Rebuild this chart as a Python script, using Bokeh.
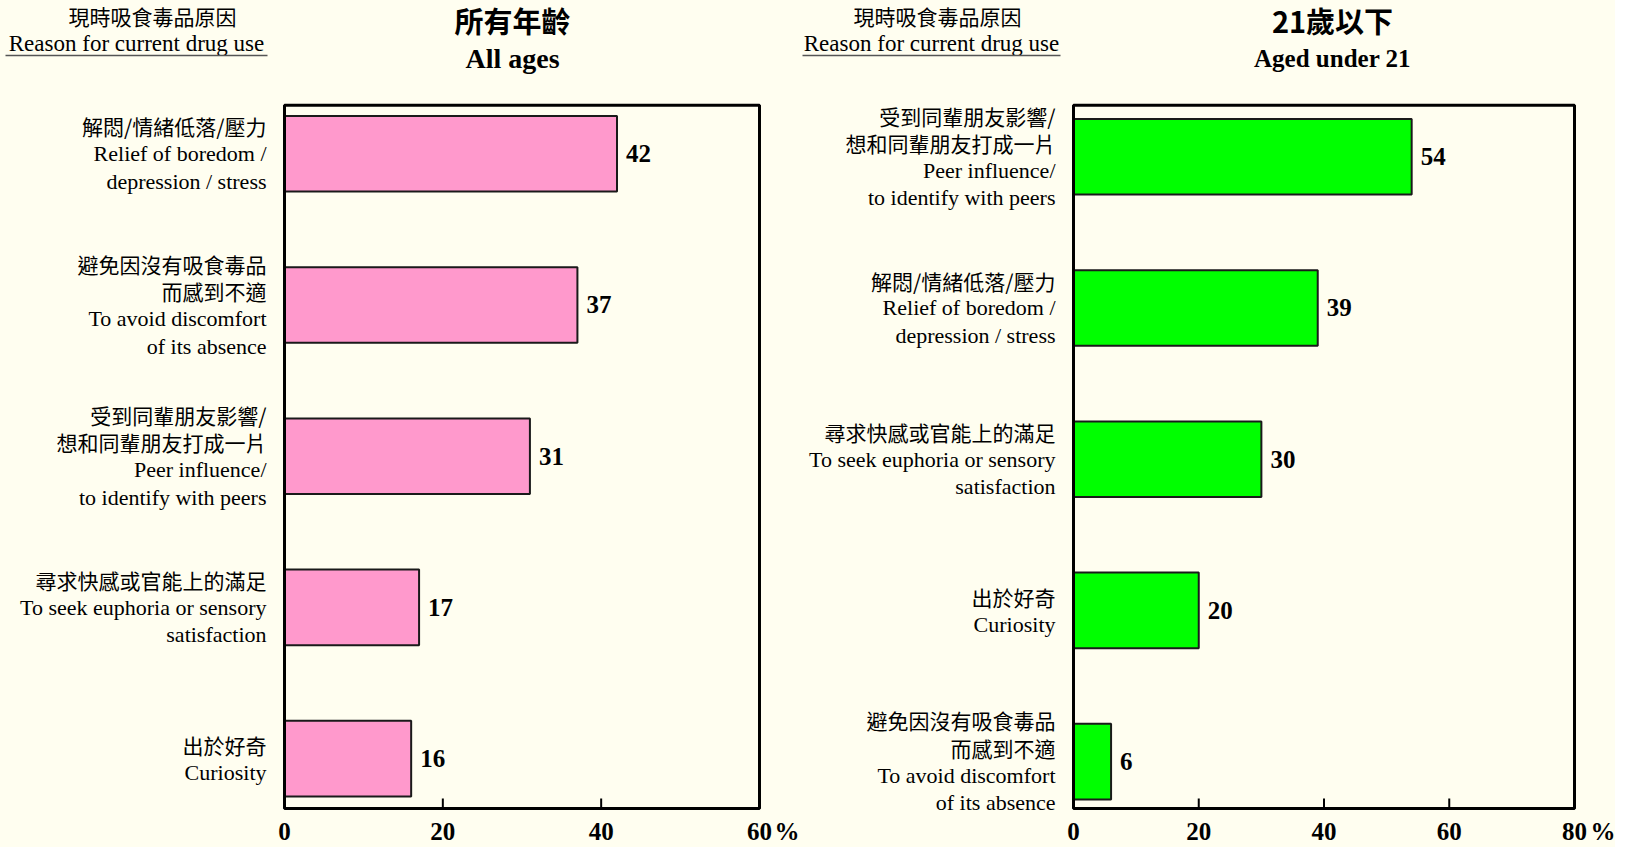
import re
from bokeh.plotting import figure
from bokeh.models import ColumnDataSource, Range1d, FixedTicker
from bokeh.layouts import row
from bokeh.embed import file_html
from bokeh.resources import INLINE
from bokeh.core.properties import value

# ---------------- data ----------------
subtitle_zh = "現時吸食毒品原因"
subtitle_en = "Reason for current drug use"

left_title_zh = "所有年齡"
left_title_en = "All ages"
left_categories = [
    ["解悶/情緒低落/壓力", "Relief of boredom /", "depression / stress"],
    ["避免因沒有吸食毒品", "而感到不適", "To avoid discomfort", "of its absence"],
    ["受到同輩朋友影響/", "想和同輩朋友打成一片", "Peer influence/", "to identify with peers"],
    ["尋求快感或官能上的滿足", "To seek euphoria or sensory", "satisfaction"],
    ["出於好奇", "Curiosity"],
]
left_values = [42, 37, 31, 17, 16]
left_ticks = [0, 20, 40, 60]
left_max = 60

right_title_zh = "21歲以下"
right_title_en = "Aged under 21"
right_categories = [
    ["受到同輩朋友影響/", "想和同輩朋友打成一片", "Peer influence/", "to identify with peers"],
    ["解悶/情緒低落/壓力", "Relief of boredom /", "depression / stress"],
    ["尋求快感或官能上的滿足", "To seek euphoria or sensory", "satisfaction"],
    ["出於好奇", "Curiosity"],
    ["避免因沒有吸食毒品", "而感到不適", "To avoid discomfort", "of its absence"],
]
right_values = [54, 39, 30, 20, 6]
right_ticks = [0, 20, 40, 60, 80]
right_max = 80

unit_label = "%"

# ---------------- style ----------------
BG = "#FFFEF0"
SERIF = "Liberation Serif"
CJK = "Noto Sans CJK TC"
LINE_GAP = 27.5
CJK_RE = re.compile(r"[\u3000-\u9fff\uff00-\uffef]")
FIG_H = 847
BOX_T, BOX_B = 113, 817   # page px of the plot box
FRAME_B = 822             # page px of the frame bottom (axis position)


def make_panel(categories, values, ticks, xmax, color, fig_left_page, width,
               box_l, box_r, ytop, ybot, title_zh, title_en, title_cx, title_en_size,
               sub_zh_cx, sub_en_l, sub_en_r, pct_x):
    xs = (box_r - box_l) / xmax            # px per x unit
    ys = (BOX_B - BOX_T) / (ybot - ytop)   # px per y unit

    def X(px):
        return (px - box_l) / xs

    def Y(py):
        return ytop + (py - BOX_T) / ys

    p = figure(width=width, height=FIG_H, output_backend="svg", toolbar_location=None,
               x_range=Range1d(X(fig_left_page), X(fig_left_page + width)),
               y_range=Range1d(Y(FRAME_B), Y(8)),
               min_border_left=0, min_border_right=0, min_border_top=0,
               min_border_bottom=FIG_H - (FRAME_B - 8))
    p.background_fill_color = BG
    p.border_fill_color = BG
    p.outline_line_color = None
    p.xgrid.visible = False
    p.ygrid.visible = False
    p.yaxis.visible = False

    pct_tick = X(pct_x)
    ax = p.xaxis[0]
    ax.ticker = FixedTicker(ticks=list(ticks) + [pct_tick])
    ax.major_label_overrides = {pct_tick: unit_label}
    ax.axis_line_color = None
    ax.major_tick_in = 0
    ax.major_tick_out = 0
    ax.minor_tick_line_color = None
    ax.major_label_text_font = SERIF
    ax.major_label_text_font_style = "bold"
    ax.major_label_text_font_size = "25px"
    ax.major_label_text_color = "black"
    ax.major_label_standoff = 4

    # bars
    idx = list(range(len(values)))
    src = ColumnDataSource(dict(y=idx, v=values, t=[str(v) for v in values],
                                tx=[v + 9 / xs for v in values]))
    p.hbar(y="y", left=0, right="v", height=0.5, source=src,
           fill_color=color, line_color="#1a1a1a", line_width=2)
    p.text(x="tx", y="y", text="t", source=src, text_baseline="middle",
           text_font=value(SERIF), text_font_style="bold", text_font_size="25px",
           text_color="black")

    # plot box and inward tick marks
    p.quad(left=0, right=xmax, top=ytop, bottom=ybot, fill_color=None,
           line_color="black", line_width=3)
    p.segment(x0=ticks, x1=ticks, y0=[ybot] * len(ticks),
              y1=[ybot - 10 / ys] * len(ticks), line_color="black", line_width=2)

    # category labels (one text per line)
    rows = {"zh": dict(x=[], y=[], t=[]), "en": dict(x=[], y=[], t=[])}
    for i, lines in enumerate(categories):
        n = len(lines)
        for j, line in enumerate(lines):
            key = "zh" if CJK_RE.search(line) else "en"
            rows[key]["x"].append(-18 / xs)
            rows[key]["y"].append(i + (j - (n - 1) / 2) * LINE_GAP / ys)
            rows[key]["t"].append(line)
    p.text(x="x", y="y", text="t", source=ColumnDataSource(rows["zh"]),
           text_align="right", text_baseline="middle", text_font=value(CJK),
           text_font_size="21px", text_color="black")
    p.text(x="x", y="y", text="t", source=ColumnDataSource(rows["en"]),
           text_align="right", text_baseline="middle", text_font=value(SERIF),
           text_font_size="22px", text_color="black")

    # titles
    p.text(x=[X(title_cx)], y=[Y(28)], text=[title_zh], text_align="center",
           text_baseline="middle", text_font=value(CJK), text_font_style="bold",
           text_font_size="29px", text_color="black")
    p.text(x=[X(title_cx)], y=[Y(66)], text=[title_en], text_align="center",
           text_baseline="middle", text_font=value(SERIF), text_font_style="bold",
           text_font_size=title_en_size, text_color="black")
    p.text(x=[X(sub_zh_cx)], y=[Y(24)], text=[subtitle_zh], text_align="center",
           text_baseline="middle", text_font=value(CJK), text_font_size="21px",
           text_color="black")
    p.text(x=[(X(sub_en_l) + X(sub_en_r)) / 2], y=[Y(51)], text=[subtitle_en],
           text_align="center", text_baseline="middle", text_font=value(SERIF),
           text_font_size="23px", text_color="black")
    p.line(x=[X(sub_en_l), X(sub_en_r)], y=[Y(63), Y(63)], line_color="#555555",
           line_width=1.5)
    return p


p1 = make_panel(left_categories, left_values, left_ticks, left_max, "#FF99CC",
                8, 799, 292, 767, -0.32, 4.33, left_title_zh, left_title_en, 520, "28px",
                160, 13, 275, 796)
p2 = make_panel(right_categories, right_values, right_ticks, right_max, "#00FF00",
                807, 816, 1081, 1582, -0.34, 4.31, right_title_zh, right_title_en, 1340,
                "25px", 945, 810, 1068, 1613)

layout = row(p1, p2)
layout.styles = {"background-color": BG}

open("out.html", "w").write(file_html(layout, INLINE))
